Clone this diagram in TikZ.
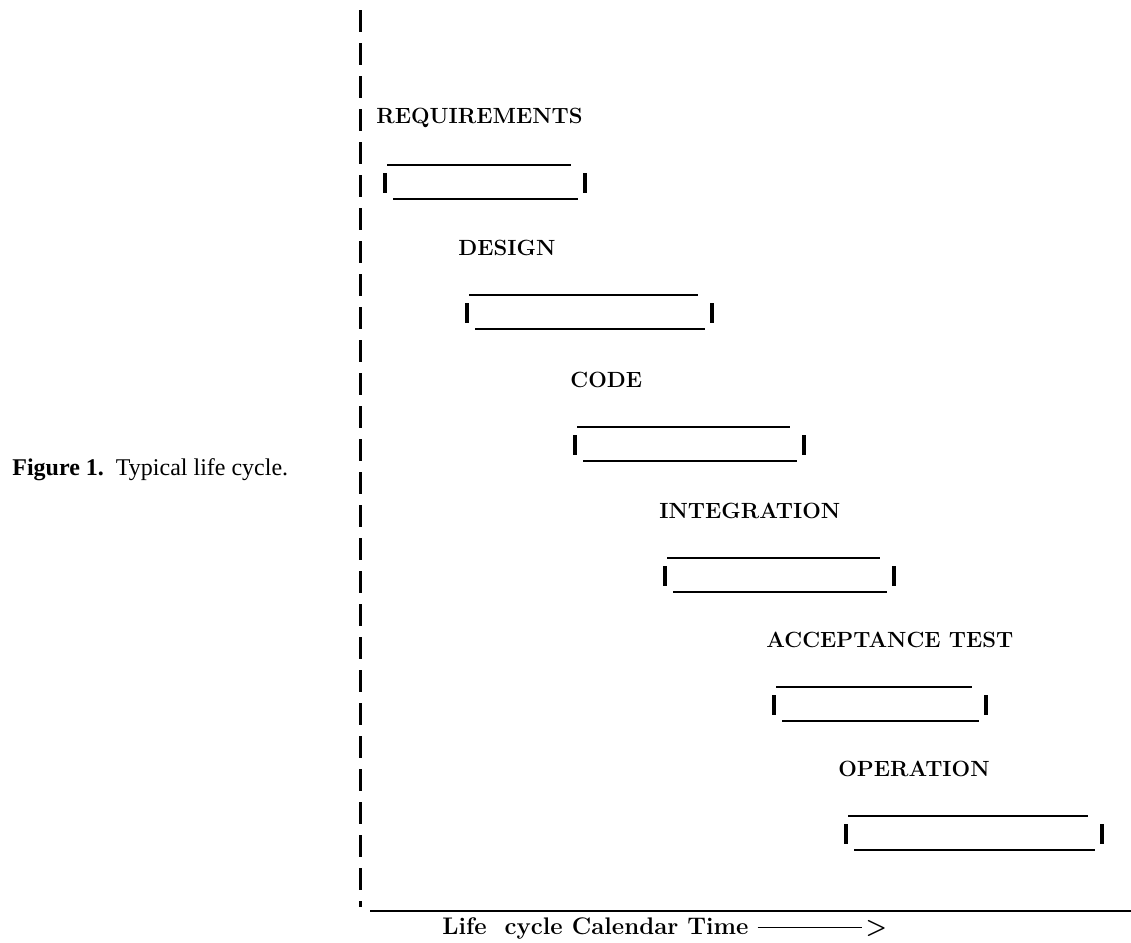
\documentclass[tikz,border=0pt]{standalone}
\usepackage{fontspec}
\newfontfamily\capfont{Liberation Serif}
\begin{document}
\begin{tikzpicture}[x=0.5pt,y=-0.5pt,
  bar/.style={line width=1.2pt},
  tick/.style={line width=1.7pt},
  phase/.style={anchor=west,inner sep=0pt,font=\fontsize{11}{13}\selectfont\bfseries}]
\useasboundingbox (0,0) rectangle (1131,943);
\draw[line width=1.5pt,dash pattern=on 11pt off 5.5pt] (360,10) -- (360,907);
\draw[line width=1.4pt] (370,911) -- (1131,911);
\foreach \name/\txt/\lx/\ly/\a/\b in {req/REQUIREMENTS/376/118/387/571,
    des/DESIGN/458/248/469/698,
    cod/CODE/570/380/577/790,
    int/INTEGRATION/659/511/667/880,
    acc/ACCEPTANCE TEST/766/640/776/972,
    ope/OPERATION/838/769/848/1088}{
  \node[phase] (\name) at (\lx,\ly) {\txt};
  \draw[bar] (\a,\ly+47) -- (\b,\ly+47);
  \draw[bar] (\a+6,\ly+81) -- (\b+7,\ly+81);
  \draw[tick] (\a-2,\ly+55) -- (\a-2,\ly+75);
  \draw[tick] (\b+14,\ly+55) -- (\b+14,\ly+75);
}
\node[anchor=west,inner sep=0pt,font=\fontsize{12}{14}\selectfont\bfseries] (axis) at (442,928)
  {Life\ \ cycle Calendar Time \rule[0.55ex]{52pt}{0.5pt}\,>};
\node[anchor=west,inner sep=0pt,font=\capfont\fontsize{12}{14}\selectfont] (cap) at (12,470)
  {\textbf{Figure 1.}\ \ Typical life cycle.};
\end{tikzpicture}
\end{document}
